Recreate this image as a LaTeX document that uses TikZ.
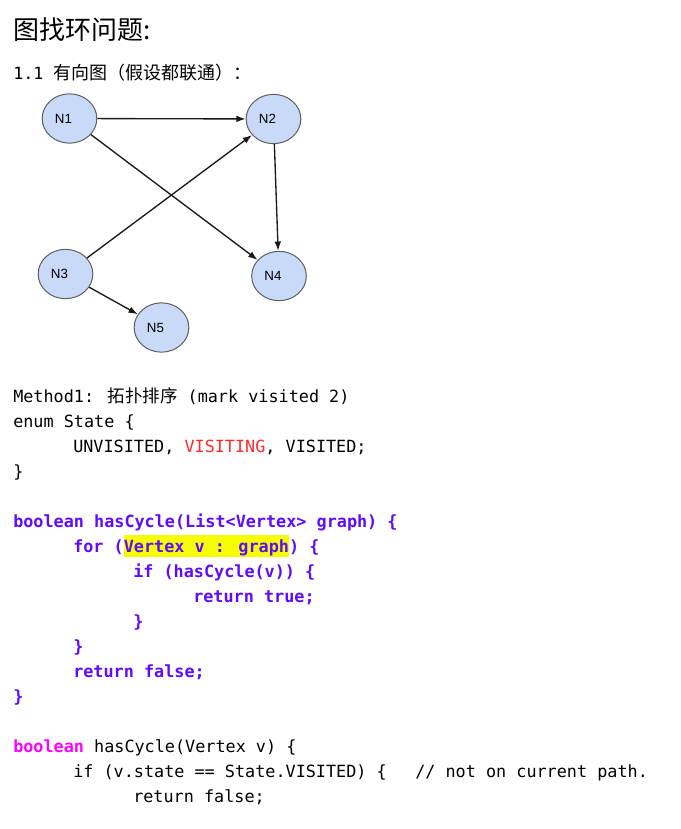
\documentclass[tikz,border=0pt]{standalone}
\usepackage{fontspec}
\usetikzlibrary{arrows.meta,shapes.geometric}
\newfontfamily\codefont{DejaVu Sans Mono}
\newfontfamily\cjk{Noto Sans CJK SC}
\newfontfamily\nodefont{Liberation Sans}
\definecolor{purp}{HTML}{5E0BFF}
\definecolor{pinkkw}{HTML}{FF00FF}
\definecolor{visred}{HTML}{FF2A2A}
\definecolor{hlyellow}{HTML}{F6FF00}
\definecolor{ballfill}{HTML}{C9DAF8}
\definecolor{ballline}{HTML}{5F5F5F}
\newcommand\cf{\codefont\fontsize{12.6pt}{15pt}\selectfont}
\newcommand\hl[1]{{\setlength{\fboxsep}{0pt}\colorbox{hlyellow}{\rule[-3.75pt]{0pt}{16.5pt}#1}}}

\begin{document}
\begin{tikzpicture}[x=0.75pt,y=-0.75pt,>=Latex,
 ball/.style={ellipse,draw=ballline,line width=0.75pt,fill=ballfill,minimum width=41pt,minimum height=37pt,inner sep=0pt,
  font=\nodefont\fontsize{10pt}{12pt}\selectfont,execute at end node={\hspace*{9pt}}},
 edge/.style={draw=black!90,line width=1pt,-{Latex[length=7pt,width=5pt]}},
 code/.style={anchor=base west,inner sep=0pt,font=\cf},
 bcode/.style={code,font=\cf\bfseries,text=purp}]
\useasboundingbox (0,0) rectangle (681,829);
\node[anchor=base west,inner sep=0pt,font=\cjk\fontsize{19.5pt}{23pt}\selectfont] (title) at (13,39) {图找环问题:};
\node[code] (sub) at (13,79) {1.1 {\cjk\fontsize{13.5pt}{16pt}\selectfont 有向图（假设都联通）：}};

\node[ball] (n1) at (69.5,118.5) {N1};
\node[ball] (n2) at (273.5,119) {N2};
\node[ball] (n3) at (65.5,274) {N3};
\node[ball] (n4) at (279,276) {N4};
\node[ball] (n5) at (161.5,327.5) {N5};
\draw[edge] (n1) -- (n2);
\draw[edge] (n1) -- (n4);
\draw[edge] (n2) -- (n4);
\draw[edge] (n3) -- (n2);
\draw[edge] (n3) -- (n5);

\node[code] (l0) at (13,402) {Method1: {\cjk\fontsize{13.1pt}{16pt}\selectfont 拓扑排序} (mark visited 2)};
\node[code] (l1) at (13,427) {enum State \{};
\node[code] (l2) at (73,452) {UNVISITED, \textcolor{visred}{VISITING}, VISITED;};
\node[code] (l3) at (13,477) {\}};
\node[bcode] (l5) at (13,527) {boolean hasCycle(List<Vertex> graph) \{};
\node[bcode] (l6) at (73,552) {for (\hl{Vertex v : graph}) \{};
\node[bcode] (l7) at (133,577) {if (hasCycle(v)) \{};
\node[bcode] (l8) at (193,602) {return true;};
\node[bcode] (l9) at (133,627) {\}};
\node[bcode] (l10) at (73,652) {\}};
\node[bcode] (l11) at (73,677) {return false;};
\node[bcode] (l12) at (13,702) {\}};
\node[code] (l14) at (13,752) {\textcolor{pinkkw}{\bfseries boolean} hasCycle(Vertex v) \{};
\node[code] (l15) at (73,777) {if (v.state == State.VISITED) \{};
\node[code] (cmt) at (415,777) {// not on current path.};
\node[code] (l16) at (133,802) {return false;};
\end{tikzpicture}
\end{document}
